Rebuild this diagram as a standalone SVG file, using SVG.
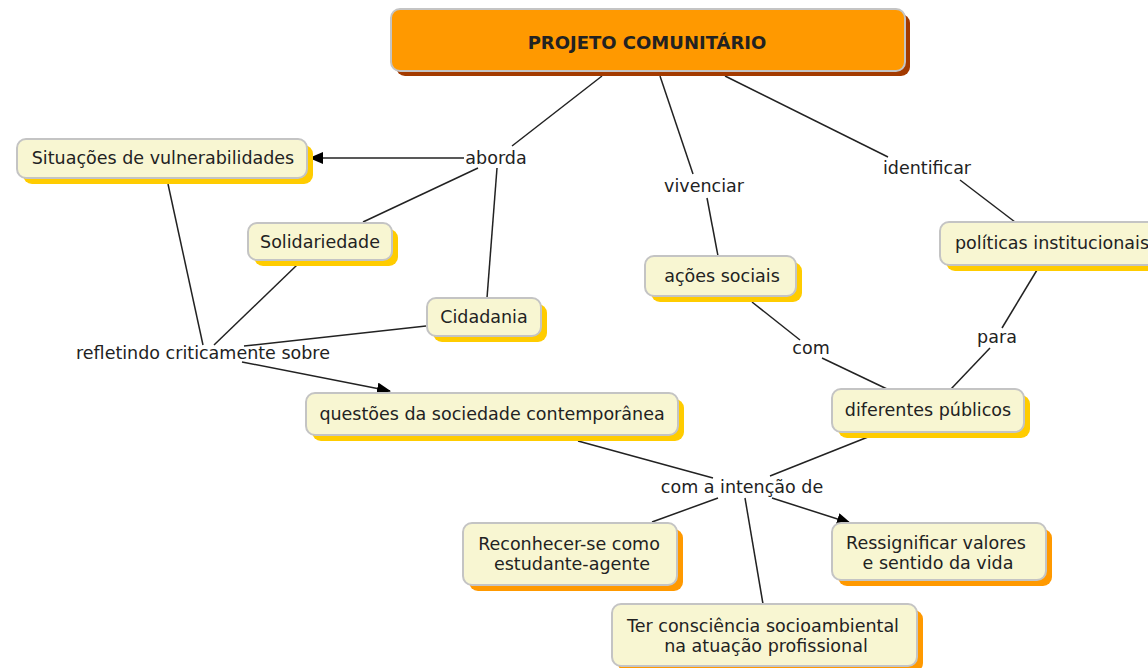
<svg xmlns="http://www.w3.org/2000/svg" width="1148" height="668" viewBox="0 0 1148 668">
<style>
.n{fill:#f8f6d2;stroke:#c4c4c4;stroke-width:2}
.sy{fill:#ffcc00}
.so{fill:#ff9900}
.t{font-family:"DejaVu Sans",Verdana,sans-serif;font-size:17.5px;fill:#222;text-anchor:middle}
.l{font-family:"DejaVu Sans",Verdana,sans-serif;font-size:17.5px;fill:#222;text-anchor:middle}
.c{stroke:#222;stroke-width:1.5;fill:none}
</style>
<defs>
<marker id="ah" markerWidth="14" markerHeight="12" refX="13" refY="6" orient="auto" markerUnits="userSpaceOnUse">
<path d="M0,0 L14,6 L0,12 Z" fill="#000"/>
</marker>
</defs>
<rect width="1148" height="668" fill="#fff"/>
<g id="connectors">
<line class="c" x1="602" y1="76" x2="512" y2="146"/>
<line class="c" x1="464" y1="158" x2="310" y2="158" marker-end="url(#ah)"/>
<line class="c" x1="478" y1="168" x2="363" y2="222"/>
<line class="c" x1="497" y1="168" x2="487" y2="298"/>
<line class="c" x1="660" y1="76" x2="693" y2="174"/>
<line class="c" x1="707" y1="198" x2="718" y2="256"/>
<line class="c" x1="725" y1="76" x2="888" y2="157"/>
<line class="c" x1="960" y1="180" x2="1015" y2="222"/>
<line class="c" x1="168" y1="184" x2="203" y2="345"/>
<line class="c" x1="297" y1="265" x2="214" y2="345"/>
<line class="c" x1="426" y1="326" x2="244" y2="346"/>
<line class="c" x1="242" y1="362" x2="390" y2="391" marker-end="url(#ah)"/>
<line class="c" x1="752" y1="302" x2="800" y2="340"/>
<line class="c" x1="822" y1="358" x2="887" y2="389"/>
<line class="c" x1="1037" y1="270" x2="1002" y2="328"/>
<line class="c" x1="990" y1="348" x2="951" y2="389"/>
<line class="c" x1="578" y1="441" x2="713" y2="478"/>
<line class="c" x1="868" y1="437" x2="770" y2="476"/>
<line class="c" x1="718" y1="498" x2="652" y2="522"/>
<line class="c" x1="745" y1="498" x2="763" y2="604"/>
<line class="c" x1="772" y1="498" x2="850" y2="523" marker-end="url(#ah)"/>
</g>
<g id="labels">
<text class="l" x="496" y="164">aborda</text>
<text class="l" x="704" y="192">vivenciar</text>
<text class="l" x="927" y="174">identificar</text>
<text class="l" x="203" y="359">refletindo criticamente sobre</text>
<text class="l" x="811" y="354">com</text>
<text class="l" x="997" y="343">para</text>
<text class="l" x="742" y="493">com a intenção de</text>
</g>
<g id="n-projeto">
<rect x="396" y="14" width="514" height="62" rx="9" fill="#a33a00"/>
<rect x="391" y="9" width="514" height="62" rx="9" fill="#ff9900" stroke="#c4c4c4" stroke-width="2"/>
<text class="t" x="647" y="49" font-weight="bold" font-size="18px" fill="#111" style="font-size:18px">PROJETO COMUNITÁRIO</text>
</g>
<g id="n-situacoes">
<rect class="sy" x="23" y="145" width="290" height="39" rx="9"/>
<rect class="n" x="17" y="139" width="290" height="39" rx="9"/>
<text class="t" x="163" y="164">Situações de vulnerabilidades</text>
</g>
<g id="n-solidariedade">
<rect class="sy" x="254" y="229" width="144" height="37" rx="9"/>
<rect class="n" x="248" y="223" width="144" height="37" rx="9"/>
<text class="t" x="320" y="248">Solidariedade</text>
</g>
<g id="n-cidadania">
<rect class="sy" x="433" y="304" width="114" height="38" rx="9"/>
<rect class="n" x="427" y="298" width="114" height="38" rx="9"/>
<text class="t" x="484" y="323">Cidadania</text>
</g>
<g id="n-acoes">
<rect class="sy" x="651" y="262" width="151" height="40" rx="9"/>
<rect class="n" x="645" y="256" width="151" height="40" rx="9"/>
<text class="t" x="722" y="282">ações sociais</text>
</g>
<g id="n-politicas">
<rect class="sy" x="946" y="228" width="220" height="43" rx="9"/>
<rect class="n" x="940" y="222" width="220" height="43" rx="9"/>
<text class="t" x="1052" y="249">políticas institucionais</text>
</g>
<g id="n-questoes">
<rect class="sy" x="312" y="399" width="372" height="42" rx="9"/>
<rect class="n" x="306" y="393" width="372" height="42" rx="9"/>
<text class="t" x="492" y="420">questões da sociedade contemporânea</text>
</g>
<g id="n-diferentes">
<rect class="sy" x="838" y="395" width="192" height="43" rx="9"/>
<rect class="n" x="832" y="389" width="192" height="43" rx="9"/>
<text class="t" x="928" y="416">diferentes públicos</text>
</g>
<g id="n-reconhecer">
<rect class="so" x="469" y="529" width="214" height="62" rx="9"/>
<rect class="n" x="463" y="523" width="214" height="62" rx="9"/>
<text class="t" x="569" y="550">Reconhecer-se como</text>
<text class="t" x="572" y="570">estudante-agente</text>
</g>
<g id="n-ressignificar">
<rect class="so" x="838" y="529" width="214" height="57" rx="9"/>
<rect class="n" x="832" y="523" width="214" height="57" rx="9"/>
<text class="t" x="936" y="549">Ressignificar valores</text>
<text class="t" x="938" y="569">e sentido da vida</text>
</g>
<g id="n-ter">
<rect class="so" x="618" y="610" width="305" height="62" rx="9"/>
<rect class="n" x="612" y="604" width="305" height="62" rx="9"/>
<text class="t" x="763" y="632">Ter consciência socioambiental</text>
<text class="t" x="766" y="652">na atuação profissional</text>
</g>
</svg>
